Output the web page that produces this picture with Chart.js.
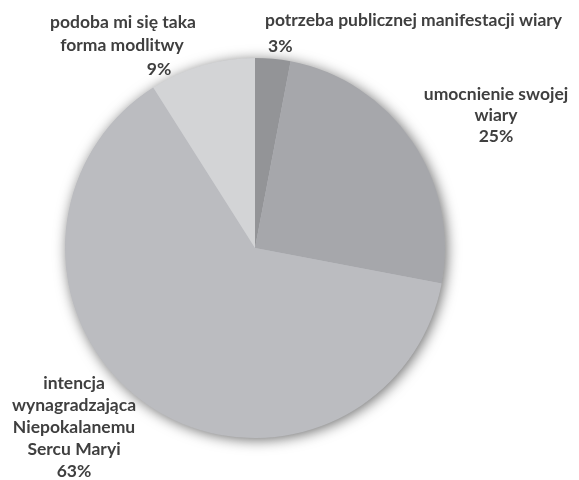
<!DOCTYPE html>
<html>
<head>
<meta charset="utf-8">
<script src="https://cdn.jsdelivr.net/npm/chart.js@4"></script>
<style>
  html, body { margin: 0; padding: 0; background: #fff; }
  #wrap { width: 579px; height: 480px; }
</style>
</head>
<body>
<div id="wrap"><canvas id="pieChart"></canvas></div>
<script>
// Data
const categories = [
    'potrzeba publicznej manifestacji wiary',
    'umocnienie swojej wiary',
    'intencja wynagradzająca Niepokalanemu Sercu Maryi',
    'podoba mi się taka forma modlitwy'
];
const shares = [3, 25, 63, 9];
const sliceColors = ['#939497', '#a6a7ab', '#bbbcc0', '#d3d4d6'];

// How each label is broken into lines, and where it sits (layout only)
const labelLines = [
    ['potrzeba publicznej manifestacji wiary', '3%'],
    ['umocnienie swojej', 'wiary', '25%'],
    ['intencja', 'wynagradzająca', 'Niepokalanemu', 'Sercu Maryi', '63%'],
    ['podoba mi się taka', 'forma modlitwy', '9%']
];
const labelPlaces = [
    [{ x: 265, y: 20, align: 'left' }, { x: 268, y: 46, align: 'left' }],
    [{ x: 496, y: 94 }, { x: 496, y: 115 }, { x: 496, y: 136 }],
    [{ x: 74, y: 383 }, { x: 74, y: 405 }, { x: 74, y: 427 }, { x: 74, y: 449 }, { x: 74, y: 471 }],
    [{ x: 123, y: 22 }, { x: 122, y: 45 }, { x: 159, y: 69 }]
];

// Soft shadow under the whole pie
const pieShadow = {
    id: 'pieShadow',
    beforeDatasetsDraw(chart) {
        const arc = chart.getDatasetMeta(0).data[0];
        if (!arc) return;
        const ctx = chart.ctx;
        ctx.save();
        ctx.shadowColor = 'rgba(0,0,0,0.6)';
        ctx.shadowBlur = 14;
        ctx.shadowOffsetX = 2;
        ctx.shadowOffsetY = 2;
        ctx.fillStyle = '#bbbcc0';
        ctx.beginPath();
        ctx.arc(arc.x, arc.y, arc.outerRadius - 0.5, 0, Math.PI * 2);
        ctx.fill();
        ctx.restore();
    }
};

const sliceLabels = {
    id: 'sliceLabels',
    afterDraw(chart) {
        const ctx = chart.ctx;
        ctx.save();
        ctx.font = 'bold 17.5px Lato, "Open Sans", sans-serif';
        ctx.fillStyle = '#3f3f3f';
        ctx.textBaseline = 'middle';
        labelLines.forEach((lines, i) => {
            lines.forEach((txt, j) => {
                const p = labelPlaces[i][j];
                ctx.textAlign = p.align || 'center';
                ctx.fillText(txt, p.x, p.y);
            });
        });
        ctx.restore();
    }
};

document.addEventListener('DOMContentLoaded', () => {
    const ctx = document.getElementById('pieChart').getContext('2d');
    new Chart(ctx, {
        type: 'pie',
        data: {
            labels: categories,
            datasets: [{
                data: shares,
                backgroundColor: sliceColors,
                borderWidth: 0
            }]
        },
        options: {
            responsive: true,
            maintainAspectRatio: false,
            animation: false,
            layout: { padding: { top: 58, bottom: 42, left: 65, right: 134 } },
            plugins: {
                legend: { display: false },
                tooltip: { enabled: false }
            }
        },
        plugins: [pieShadow, sliceLabels]
    });
});
</script>
</body>
</html>
